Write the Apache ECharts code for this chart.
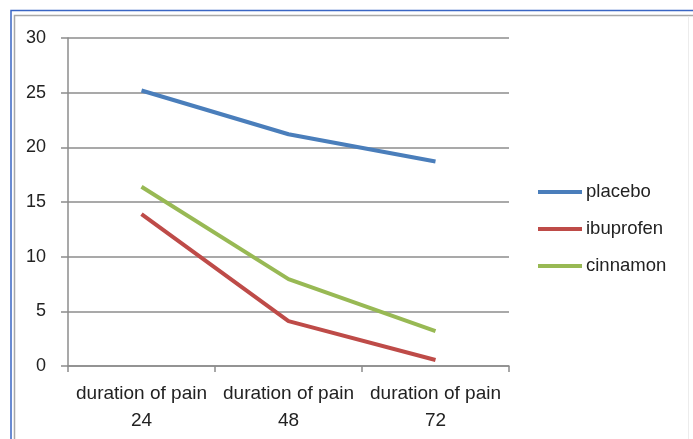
<!DOCTYPE html>
<html>
<head>
<meta charset="utf-8">
<script src="https://cdn.jsdelivr.net/npm/echarts@6/dist/echarts.min.js"></script>
<style>
  html, body { margin: 0; padding: 0; background: #fff; }
  #chart { width: 693px; height: 439px; }
</style>
</head>
<body>
<div id="chart"></div>
<script>
// data
const categories = ['duration of pain\n24', 'duration of pain\n48', 'duration of pain\n72'];
const placebo = [25.2, 21.2, 18.7];
const ibuprofen = [13.9, 4.1, 0.55];
const cinnamon = [16.4, 7.95, 3.2];

const FONT = '"Liberation Sans", Arial, sans-serif';

const chart = echarts.init(document.getElementById('chart'));

const option = {
  backgroundColor: '#ffffff',
  animation: false,
  grid: { left: 68, right: 184, top: 38, bottom: 73 },
  // outer frame like the Excel chart area
  graphic: [
    { type: 'polyline', shape: { points: [[11, 439], [11, 10.5], [693, 10.5]] },
      style: { stroke: '#3a66c4', lineWidth: 1.5, fill: null } },
    { type: 'polyline', shape: { points: [[14.5, 439], [14.5, 15.5], [693, 15.5]] },
      style: { stroke: '#a8a8a8', lineWidth: 1.5, fill: null } },
    { type: 'line', shape: { x1: 688.5, y1: 16, x2: 688.5, y2: 439 },
      style: { stroke: '#ececec', lineWidth: 1 } }
  ],
  legend: {
    orient: 'vertical',
    left: 538,
    top: 181,
    padding: 0,
    icon: 'rect',
    itemWidth: 44,
    itemHeight: 4,
    itemGap: 15,
    textStyle: { fontFamily: FONT, fontSize: 18.5, color: '#222', padding: [0, 0, 0, -1], lineHeight: 22 },
    data: ['placebo', 'ibuprofen', 'cinnamon']
  },
  xAxis: {
    type: 'category',
    data: categories,
    boundaryGap: true,
    axisLine: { lineStyle: { color: '#8c8c8c', width: 1.5 } },
    axisTick: { show: true, length: 6, lineStyle: { color: '#8c8c8c', width: 1.5 } },
    axisLabel: {
      interval: 0,
      fontFamily: FONT, fontSize: 19, color: '#222', margin: 14, lineHeight: 27
    }
  },
  yAxis: {
    type: 'value',
    min: 0,
    max: 30,
    interval: 5,
    axisLine: { show: true, lineStyle: { color: '#8c8c8c', width: 1.5 } },
    axisTick: { show: true, length: 7, lineStyle: { color: '#8c8c8c', width: 1.5 } },
    axisLabel: { fontFamily: FONT, fontSize: 18, color: '#222', margin: 22 },
    splitLine: { lineStyle: { color: '#8c8c8c', width: 1.5 } }
  },
  series: [
    {
      name: 'placebo', type: 'line', data: placebo,
      showSymbol: false, symbol: 'none',
      lineStyle: { color: '#4a7ebb', width: 4 }, itemStyle: { color: '#4a7ebb' }
    },
    {
      name: 'ibuprofen', type: 'line', data: ibuprofen,
      showSymbol: false, symbol: 'none',
      lineStyle: { color: '#be4b48', width: 4 }, itemStyle: { color: '#be4b48' }
    },
    {
      name: 'cinnamon', type: 'line', data: cinnamon,
      showSymbol: false, symbol: 'none',
      lineStyle: { color: '#98b954', width: 4 }, itemStyle: { color: '#98b954' }
    }
  ]
};

chart.setOption(option);
</script>
</body>
</html>
